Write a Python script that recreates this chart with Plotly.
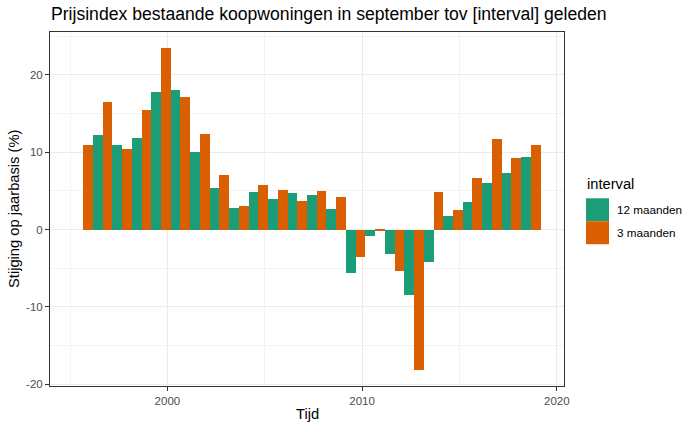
import plotly.graph_objects as go

# ---- data ----
years = list(range(1995, 2019))
sep_fraction = 0.67  # September 1st as fraction of year
interval_labels = ["12 maanden", "3 maanden"]
values_12m = [None, 12.2, 10.9, 11.9, 17.8, 18.1, 10.1, 5.35, 2.77, 4.88, 3.9, 4.67,
              4.5, 2.73, -5.62, -0.83, -3.17, -8.5, -4.21, 1.73, 3.63, 6.04, 7.36, 9.43]
values_3m = [11.0, 16.5, 10.45, 15.5, 23.47, 17.1, 12.4, 7.05, 2.99, 5.75, 5.09, 3.72,
             5.0, 4.19, -3.53, -0.1, -5.37, -18.14, 4.84, 2.58, 6.68, 11.73, 9.3, 10.97]
colors = ["#1B9E77", "#D95F02"]
x_ticks = [2000, 2010, 2020]
y_ticks = [-20, -10, 0, 10, 20]

xs = [y + sep_fraction for y in years]

W, H = 700, 432
# plot panel in page pixels
PL, PR, PT, PB = 50, 564, 32, 386.5
L, R, T, B = PL, W - PR, PT, H - PB
PW, PH = W - L - R, H - T - B


def px_x(p):
    return (p - L) / PW


def px_y(p):
    return 1 - (p - T) / PH


fig = go.Figure()
for name, vals, col in zip(interval_labels, [values_12m, values_3m], colors):
    fig.add_trace(go.Bar(x=xs, y=vals, name=name, marker=dict(color=col, line=dict(width=0)),
                         showlegend=False))

# ggplot-like expansion
xmin = xs[0] - 0.5
xmax = xs[-1] + 0.5
xr = [xmin - 0.05 * (xmax - xmin), xmax + 0.05 * (xmax - xmin)]
allv = [v for v in values_12m + values_3m if v is not None]
ymin, ymax = min(allv), max(allv)
yr = [ymin - 0.05 * (ymax - ymin), ymax + 0.05 * (ymax - ymin)]

font = "Liberation Sans, Arial, Helvetica, sans-serif"
axis_common = dict(
    showline=True, mirror=True, linecolor="#333333", linewidth=1,
    ticks="outside", ticklen=4, tickcolor="#333333", tickwidth=1,
    gridcolor="#EBEBEB", gridwidth=1, zeroline=False, automargin=False,
    tickfont=dict(family=font, size=11.5, color="#4D4D4D"),
)

fig.update_layout(
    width=W, height=H,
    barmode="group", bargap=0, bargroupgap=0,
    plot_bgcolor="white", paper_bgcolor="white",
    margin=dict(l=L, r=R, t=T, b=B, autoexpand=False),
    font=dict(family=font),
    title=dict(text="Prijsindex bestaande koopwoningen in september tov [interval] geleden",
               x=51 / W, xanchor="left", y=1 - 14 / H, yanchor="middle",
               font=dict(family=font, size=17.6, color="black")),
    xaxis=dict(range=xr, tickvals=x_ticks, ticktext=[str(t) for t in x_ticks],
               minor=dict(tickvals=[1995, 2005, 2015], showgrid=True, gridcolor="#F3F3F3",
                          gridwidth=0.6, ticks=""),
               **axis_common),
    yaxis=dict(range=yr, tickvals=y_ticks, ticktext=[str(t) for t in y_ticks],
               minor=dict(tickvals=[-15, -5, 5, 15, 25], showgrid=True, gridcolor="#F3F3F3",
                          gridwidth=0.6, ticks=""),
               **axis_common),
)

# axis titles
fig.add_annotation(x=px_x((PL + PR) / 2), y=px_y(415), xref="paper", yref="paper", text="Tijd",
                   showarrow=False, xanchor="center", yanchor="middle",
                   font=dict(family=font, size=14.7, color="black"))
fig.add_annotation(x=px_x(14), y=px_y((PT + PB) / 2), xref="paper", yref="paper",
                   text="Stijging op jaarbasis (%)", textangle=-90,
                   showarrow=False, xanchor="center", yanchor="middle",
                   font=dict(family=font, size=14.7, color="black"))

# manual ggplot-style legend
fig.add_annotation(x=px_x(585), y=px_y(184), xref="paper", yref="paper", text="interval",
                   showarrow=False, xanchor="left", yanchor="middle",
                   font=dict(family=font, size=14.7, color="black"))
key_tops = [198.5, 221.5]
for i, (name, col) in enumerate(zip(interval_labels, colors)):
    top = key_tops[i]
    fig.add_shape(type="rect", xref="paper", yref="paper",
                  x0=px_x(586), x1=px_x(609), y0=px_y(top + 23), y1=px_y(top),
                  fillcolor=col, line=dict(width=0))
    fig.add_annotation(x=px_x(615), y=px_y(top + 11.5), xref="paper", yref="paper",
                       text=name, showarrow=False, xanchor="left", yanchor="middle",
                       font=dict(family=font, size=11.7, color="black"))

# remove the default page margin so the figure fills the window exactly
fig.write_html("out.html", config={"displayModeBar": False},
               post_script="document.body.style.margin='0px';")
